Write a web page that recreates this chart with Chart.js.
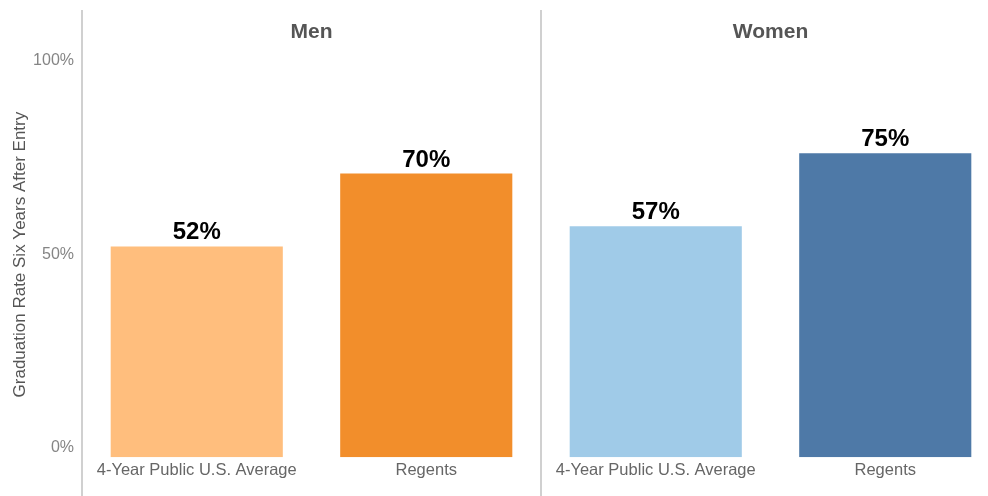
<!DOCTYPE html>
<html lang="en">
<head>
  <meta charset="UTF-8">
  <title>Graduation Rate Six Years After Entry</title>
  <script src="https://cdn.jsdelivr.net/npm/chart.js"></script>
  <style>
    body {
      margin: 0;
      background: #ffffff;
      overflow: hidden;
      font-family: "Liberation Sans", Arial, sans-serif;
    }
    #wrap {
      width: 1000px;
      height: 496px;
    }
  </style>
</head>
<body>
  <div id="wrap"><canvas id="gradChart"></canvas></div>

  <script>
    // data
    const groups = ['Men', 'Women'];
    const categories = ['4-Year Public U.S. Average', 'Regents', '4-Year Public U.S. Average', 'Regents'];
    const rates = [52, 70, 57, 75];
    const barColors = ['#FFBE7D', '#F28E2B', '#A0CBE8', '#4E79A7'];
    const yTicks = [0, 50, 100];

    const font = '"Liberation Sans", Arial, sans-serif';

    // panel dividers, panel headers, value labels, y tick labels
    const panelPlugin = {
      id: 'panels',
      afterDraw(chart) {
        const ctx = chart.ctx;
        const x = chart.scales.x;
        const y = chart.scales.y;
        const half = (x.getPixelForValue(1) - x.getPixelForValue(0)) / 2;
        ctx.save();

        // divider lines (left edge and between the two panels)
        ctx.strokeStyle = '#d0d0d0';
        ctx.lineWidth = 2;
        [0, 2].forEach(i => {
          const px = Math.round(x.getPixelForValue(i) - half);
          ctx.beginPath();
          ctx.moveTo(px, 10);
          ctx.lineTo(px, chart.height);
          ctx.stroke();
        });

        // panel headers
        ctx.fillStyle = '#555555';
        ctx.font = 'bold 21px ' + font;
        ctx.textAlign = 'center';
        ctx.textBaseline = 'middle';
        groups.forEach((g, i) => {
          const cx = (x.getPixelForValue(i * 2) + x.getPixelForValue(i * 2 + 1)) / 2;
          ctx.fillText(g, cx, 32);
        });

        // value labels
        ctx.fillStyle = '#000000';
        ctx.font = 'bold 24px ' + font;
        ctx.textBaseline = 'alphabetic';
        rates.forEach((v, i) => {
          ctx.fillText(v + '%', x.getPixelForValue(i), y.getPixelForValue(v) - 7);
        });

        // y tick labels, kept inside the axis range
        ctx.fillStyle = '#858585';
        ctx.font = '16px ' + font;
        ctx.textAlign = 'right';
        ctx.textBaseline = 'middle';
        yTicks.forEach(t => {
          let py = y.getPixelForValue(t);
          py = Math.min(Math.max(py, y.top + 9), y.bottom - 10);
          ctx.fillText(t + '%', 74, py);
        });

        ctx.restore();
      }
    };

    new Chart(document.getElementById('gradChart'), {
      type: 'bar',
      data: {
        labels: categories,
        datasets: [{
          data: rates,
          backgroundColor: barColors,
          borderWidth: 0,
          categoryPercentage: 1,
          barPercentage: 0.75
        }]
      },
      options: {
        responsive: true,
        maintainAspectRatio: false,
        animation: false,
        layout: { padding: { top: 52, left: 10, right: 0, bottom: 13 } },
        plugins: {
          legend: { display: false },
          tooltip: { enabled: false }
        },
        scales: {
          x: {
            offset: true,
            grid: { display: false, drawTicks: false },
            border: { display: false },
            ticks: {
              color: '#666666',
              font: { family: font, size: 16.5 },
              padding: 3,
              maxRotation: 0,
              autoSkip: false
            }
          },
          y: {
            min: 0,
            max: 100,
            afterFit(scale) { scale.width = 72; },
            grid: { display: false },
            border: { display: false },
            ticks: {
              stepSize: 50,
              color: 'rgba(0,0,0,0)',
              callback: v => v + '%'
            },
            title: {
              display: true,
              text: 'Graduation Rate Six Years After Entry',
              color: '#555555',
              font: { family: font, size: 17 },
              padding: { top: 0, bottom: 0 }
            }
          }
        }
      },
      plugins: [panelPlugin]
    });
  </script>
</body>
</html>
